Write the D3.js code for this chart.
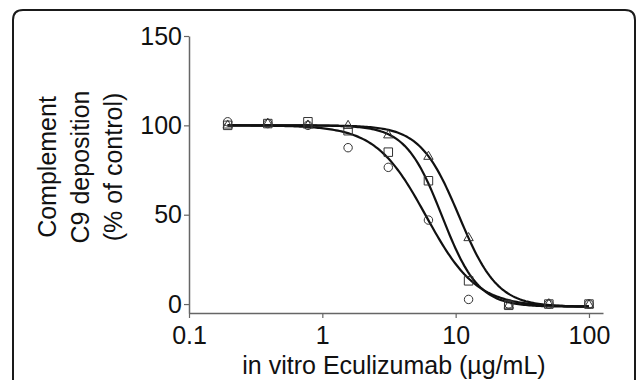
<!DOCTYPE html>
<html>
<head>
<meta charset="utf-8">
<script src="https://cdn.jsdelivr.net/npm/d3@7"></script>
<style>
  body { margin: 0; background: #fff; }
  svg { display: block; font-family: "Liberation Sans", Arial, sans-serif; }
</style>
</head>
<body>
<div id="chart"></div>
<script>
// concentrations (µg/mL), twofold dilutions
const concentrations = [0.195, 0.39, 0.78, 1.56, 3.125, 6.25, 12.5, 25, 50, 100];
// % of control
const circleValues   = [102, 101, 100, 87.5, 76.5, 47, 2.6, 0, 0, 0];
const squareValues   = [100, 101, 102, 97, 85, 69, 13, -0.7, 0, 0];
const triangleValues = [100, 101, 100, 99.8, 94.5, 82.5, 37, -0.8, 0, -0.5];
// fitted 4PL parameters per series: [top, bottom, IC50, hill]
const circleFit   = [100, -1.5, 6.0, 2.3];
const squareFit   = [100, -1.5, 7.9, 3.2];
const triangleFit = [100, -1.5, 10.6, 3.0];
const xTicks = [0.1, 1, 10, 100];
const yTicks = [0, 50, 100, 150];

const series = [
  { name: 'circle', values: circleValues, fit: circleFit, symbol: d3.symbolCircle, size: 56 },
  { name: 'square', values: squareValues, fit: squareFit, symbol: d3.symbolSquare, size: 72 },
  { name: 'triangle', values: triangleValues, fit: triangleFit, symbol: d3.symbolTriangle, size: 38 }
];

const width = 637, height = 380;

const svg = d3.select('#chart').append('svg')
  .attr('width', width)
  .attr('height', height);

// rounded frame, open at the bottom
const r = 10;
svg.append('path')
  .attr('d', `M13,${height + 5} V${10 + r} Q13,10 ${13 + r},10 H${635 - r} Q635,10 635,${10 + r} V${height + 5}`)
  .attr('fill', 'none')
  .attr('stroke', '#1a1a1a')
  .attr('stroke-width', 2);

const x = d3.scaleLog().domain([0.1, 127.4]).range([189, 603]);
const y = d3.scaleLinear().domain([-5, 150]).range([313, 36]);

const axisColor = '#666';

const yAxis = svg.append('g')
  .attr('transform', `translate(${x.range()[0]},0)`)
  .call(d3.axisLeft(y).tickValues(yTicks).tickFormat(d3.format('d')).tickSize(5).tickSizeOuter(0).tickPadding(2));

const xAxis = svg.append('g')
  .attr('transform', `translate(0,${y.range()[0]})`)
  .call(d3.axisBottom(x).tickValues(xTicks).tickFormat(d => String(d)).tickSize(5).tickSizeOuter(0).tickPadding(8));

[xAxis, yAxis].forEach(g => {
  g.select('.domain').attr('stroke', axisColor).attr('stroke-width', 1.5);
  g.selectAll('.tick line').attr('stroke', axisColor).attr('stroke-width', 1.2);
  g.selectAll('.tick text')
    .attr('fill', '#111')
    .style('font-size', '25px')
    .style('font-family', '"Liberation Sans", Arial, sans-serif');
});

// curves
const fourPL = (c, p) => p[1] + (p[0] - p[1]) / (1 + Math.pow(c / p[2], p[3]));
const lo = concentrations[0], hi = concentrations[concentrations.length - 1];
const samples = d3.range(0, 201).map(i => lo * Math.pow(hi / lo, i / 200));

const line = d3.line()
  .x(d => x(d[0]))
  .y(d => y(d[1]))
  .curve(d3.curveLinear);

series.forEach(s => {
  svg.append('path')
    .datum(samples.map(c => [c, fourPL(c, s.fit)]))
    .attr('d', line)
    .attr('fill', 'none')
    .attr('stroke', '#111')
    .attr('stroke-width', 2.2);
});

// markers
series.forEach(s => {
  svg.append('g').selectAll('path')
    .data(s.values.map((v, i) => [concentrations[i], v]))
    .enter()
    .append('path')
    .attr('transform', d => `translate(${x(d[0])},${y(d[1])})`)
    .attr('d', d3.symbol().type(s.symbol).size(s.size))
    .attr('fill', 'none')
    .attr('stroke', '#333')
    .attr('stroke-width', 1);
});

// axis titles
const yTitle = svg.append('text')
  .attr('transform', 'translate(80,167) rotate(-90)')
  .attr('text-anchor', 'middle')
  .style('font-size', '25px')
  .attr('fill', '#111');
['Complement', 'C9 deposition', '(% of control)'].forEach((t, i) => {
  yTitle.append('tspan')
    .attr('x', 0)
    .attr('y', (i - 1) * 33 + 9)
    .text(t);
});

svg.append('text')
  .attr('x', 394)
  .attr('y', 374)
  .attr('text-anchor', 'middle')
  .style('font-size', '25px')
  .attr('fill', '#111')
  .text('in vitro Eculizumab (µg/mL)');
</script>
</body>
</html>
